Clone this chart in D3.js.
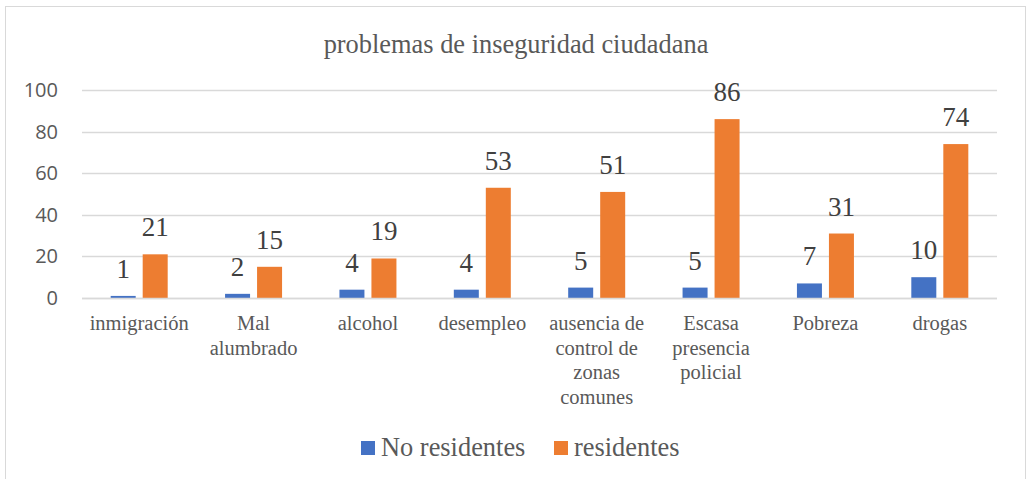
<!DOCTYPE html>
<html><head><meta charset="utf-8">
<script src="https://cdn.jsdelivr.net/npm/d3@7"></script>
<style>body{margin:0;background:#fff}svg{display:block}</style>
</head><body>
<svg id="c" width="1027" height="479"></svg>
<script>
const title = "problemas de inseguridad ciudadana";
const categories = ["inmigración","Mal alumbrado","alcohol","desempleo","ausencia de control de zonas comunes","Escasa presencia policial","Pobreza","drogas"];
const categoryLines = [["inmigración"],["Mal","alumbrado"],["alcohol"],["desempleo"],["ausencia de","control de","zonas","comunes"],["Escasa","presencia","policial"],["Pobreza"],["drogas"]];
const seriesNames = ["No residentes","residentes"];
const noResidentes = [1,2,4,4,5,5,7,10];
const residentes = [21,15,19,53,51,86,31,74];
const yTicks = [0,20,40,60,80,100];
const colors = ["#4472C4","#ED7D31"];
const SERIF = "'Liberation Serif','Times New Roman','DejaVu Serif',serif";

const svg = d3.select("#c");
svg.append("rect").attr("x",5.5).attr("y",6.5).attr("width",1020).attr("height",480)
  .attr("fill","#fff").attr("stroke","#d9d9d9");

const x = d3.scaleBand().domain(categories).range([82,997]);
const y = d3.scaleLinear().domain([0,100]).range([298,90]);
const barW = 25, gap = 7;

svg.append("text").attr("x",516).attr("y",53).attr("text-anchor","middle")
  .style("font-family",SERIF).attr("font-size",26.4).attr("fill","#595959").text(title);

// gridlines
svg.append("g").selectAll("line").data(yTicks).join("line")
  .attr("x1",82).attr("x2",997).attr("y1",d=>Math.round(y(d))+0.5).attr("y2",d=>Math.round(y(d))+0.5)
  .attr("stroke","#d9d9d9").attr("stroke-width",1.3);

// y axis
const ya = svg.append("g").attr("transform","translate(67,0)")
  .call(d3.axisLeft(y).tickValues(yTicks).tickSize(0).tickPadding(9));
ya.select(".domain").remove();
ya.selectAll("text").style("font-family","'Open Sans',sans-serif").attr("font-size",20).attr("fill","#595959");

// bars
const series = [noResidentes, residentes];
series.forEach((vals,si)=>{
  const off = si===0 ? -(gap/2+barW) : gap/2;
  const g = svg.append("g");
  g.selectAll("rect").data(vals).join("rect")
    .attr("x",(d,i)=>x(categories[i])+x.bandwidth()/2+off)
    .attr("y",d=>y(d)).attr("width",barW).attr("height",d=>y(0)-y(d))
    .attr("fill",colors[si]);
  g.selectAll("text").data(vals).join("text")
    .attr("x",(d,i)=>x(categories[i])+x.bandwidth()/2+off+barW/2)
    .attr("y",d=>y(d)-18).attr("text-anchor","middle")
    .style("font-family",SERIF).attr("font-size",27).attr("fill","#404040")
    .text(d=>d);
});

// baseline
svg.append("line").attr("x1",82).attr("x2",997).attr("y1",298.5).attr("y2",298.5)
  .attr("stroke","#d9d9d9").attr("stroke-width",1.5);

// category labels
const cg = svg.append("g");
categories.forEach((c,i)=>{
  const t = cg.append("text").attr("text-anchor","middle")
    .style("font-family",SERIF).attr("font-size",20.5).attr("fill","#595959");
  categoryLines[i].forEach((ln,j)=>{
    t.append("tspan").attr("x",x(c)+x.bandwidth()/2).attr("y",330+j*24.5).text(ln);
  });
});

// legend
const leg = [{x:361,tx:381},{x:554,tx:574}];
seriesNames.forEach((n,i)=>{
  svg.append("rect").attr("x",leg[i].x).attr("y",441).attr("width",14).attr("height",14).attr("fill",colors[i]);
  svg.append("text").attr("x",leg[i].tx).attr("y",456).style("font-family",SERIF)
    .attr("font-size",26.4).attr("fill","#595959").text(n);
});
</script>
</body></html>
